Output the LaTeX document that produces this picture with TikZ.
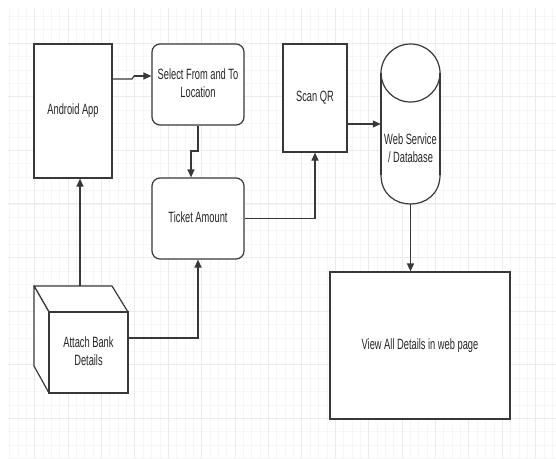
\documentclass[tikz,border=0pt]{standalone}
\usepackage{fontspec}
\setmainfont{Liberation Sans}
\usetikzlibrary{arrows.meta}
\newcommand{\stxt}[1]{\scalebox{1}[1.6]{\begin{tabular}{@{}c@{}}#1\end{tabular}}}
\definecolor{linec}{HTML}{383838}
\definecolor{txtc}{HTML}{262626}
\definecolor{gmin}{HTML}{F6F6F6}
\definecolor{gmaj}{HTML}{EBEBEB}
\tikzset{
  box/.style={draw=linec, line width=1.2pt, fill=white, inner sep=0pt, text=txtc,
    font=\fontsize{9.3}{11.2}\selectfont},
  rbox/.style={box, rounded corners=8pt},
  conn/.style={draw=linec, line width=1.2pt, -{Triangle[length=8pt,width=7pt]}},
  plainconn/.style={draw=linec, line width=1.2pt},
  shapeline/.style={draw=linec, line width=1.2pt},
  lbl/.style={inner sep=0pt, text=txtc, font=\fontsize{9.3}{11.2}\selectfont}
}
\begin{document}
\begin{tikzpicture}[x=1pt,y=-1pt]
\useasboundingbox (0,0) rectangle (556,458);
\fill[white] (0,0) rectangle (556,458);
% grid
\begin{scope}
\clip (8,8) rectangle (556,458);
\foreach \i in {0,...,66} {
  \pgfmathsetmacro\gx{9.5+8.35*\i}
  \draw[gmin, line width=0.6pt] (\gx,8) -- (\gx,458);
}
\foreach \j in {0,...,34} {
  \pgfmathsetmacro\gy{2.8+13.4*\j}
  \draw[gmin, line width=0.6pt] (8,\gy) -- (556,\gy);
}
\foreach \i in {0,...,17} {
  \pgfmathsetmacro\gx{1.2+33.4*\i}
  \draw[gmaj, line width=0.8pt] (\gx,8) -- (\gx,458);
}
\foreach \j in {0,...,9} {
  \pgfmathsetmacro\gy{-10.6+53.6*\j}
  \draw[gmaj, line width=0.8pt] (8,\gy) -- (556,\gy);
}
\end{scope}

% nodes
\node[box, minimum width=78pt, minimum height=134pt] (app) at (73,111) {\stxt{Android App}};
\node[rbox, minimum width=92pt, minimum height=81pt] (sel) at (198,84.5) {\stxt{Select From and To\\Location}};
\node[rbox, minimum width=92pt, minimum height=81pt] (tk) at (198,218.5) {\stxt{Ticket Amount}};
\node[box, minimum width=64pt, minimum height=108pt] (scan) at (315,98) {\stxt{Scan QR}};
\node[box, minimum width=180pt, minimum height=147pt] (view) at (420,345.5) {\stxt{View All Details in web page}};

% cylinder
\node[minimum width=59pt, minimum height=160pt, inner sep=0pt] (db) at (410.5,124) {};
\fill[white] (381,73) -- (381,175)
  .. controls (381,213.7) and (440,213.7) .. (440,175) -- (440,73)
  .. controls (440,34.3) and (381,34.3) .. (381,73) -- cycle;
\path[shapeline] (381,73) -- (381,175);
\path[shapeline] (440,73) -- (440,175);
\path[shapeline] (381,175) .. controls (381,213.7) and (440,213.7) .. (440,175);
\path[shapeline] (410.5,73) ellipse [x radius=29.5, y radius=29];
\node[lbl] (dbtext) at (410.5,150) {\stxt{Web Service\\/ Database}};

% cube
\draw[linec, line width=1.2pt, fill=white, line join=round]
  (34,286) -- (112,286) -- (128,312) -- (49,312) -- cycle;
\draw[linec, line width=1.2pt, fill=white, line join=round]
  (34,286) -- (49,312) -- (49,393) -- (34,366) -- cycle;
\node[box, minimum width=79pt, minimum height=81pt] (bank) at (88.5,352.5) {\stxt{Attach Bank\\Details}};
\coordinate (banktop) at (80,286);
\coordinate (bankr) at (128,338);

% connectors
\coordinate (a1) at (112,79);
\coordinate (a2) at (132,79);
\coordinate (a3) at (134,76);
\draw[plainconn] (a1) -- (a2) -- (a3);
\draw[conn] (a3) -- (a3 -| sel.west);

\coordinate (s1) at (198,151);
\coordinate (s2) at (191,151);
\draw[conn] (sel.south) -- (s1) -- (s2) -- (s2 |- tk.north);

\draw[conn] (banktop) -- (banktop |- app.south);
\draw[conn] (bankr) -| (tk.south);
\draw[conn] (tk.east) -| (scan.south);
\draw[conn] (scan.east |- db.west) -- (db.west);
\draw[conn] (db.south) -- (db.south |- view.north);
\end{tikzpicture}
\end{document}
